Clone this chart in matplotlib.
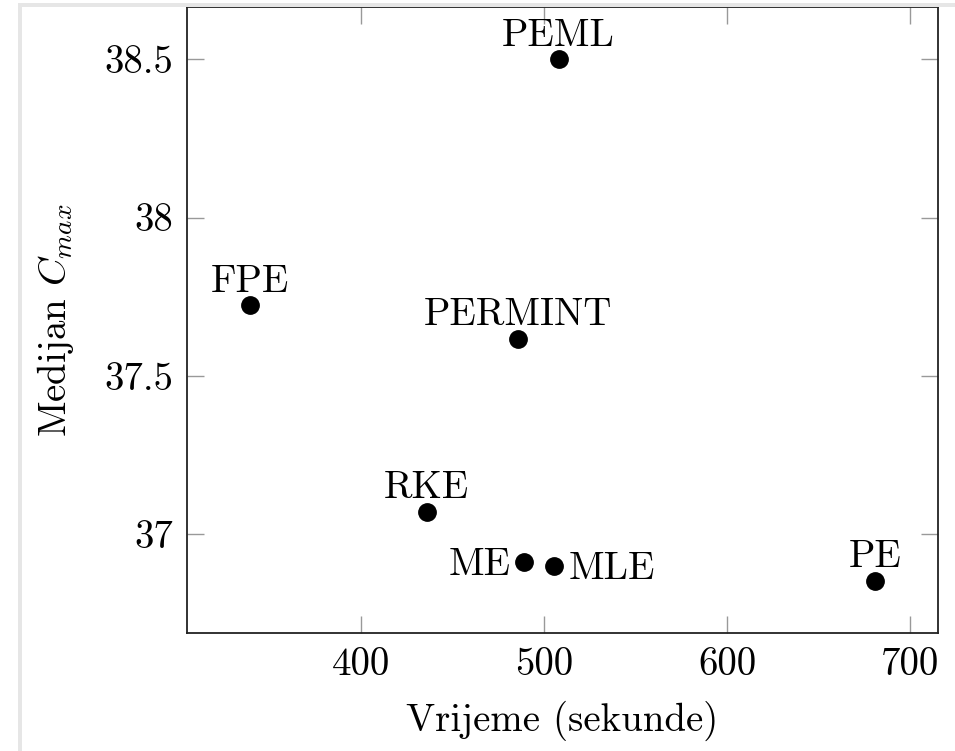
import matplotlib
matplotlib.use("Agg")
import matplotlib.pyplot as plt
from matplotlib.patches import Rectangle

plt.rcParams['font.family'] = ['cmr10', 'DejaVu Serif']
plt.rcParams['mathtext.fontset'] = 'cm'
plt.rcParams['axes.formatter.use_mathtext'] = True

methods = ["PEML", "PERMINT", "FPE", "RKE", "ME", "MLE", "PE"]
times = [507.8, 485.9, 339.0, 435.7, 488.7, 505.1, 680.8]
medians = [38.5, 37.617, 37.722, 37.068, 36.910, 36.897, 36.85]
label_pos = ["above", "above", "above", "above", "left", "right", "above"]

xticks = [400, 500, 600, 700]
xticklabels = ["400", "500", "600", "700"]
yticks = [37, 37.5, 38, 38.5]
yticklabels = ["37", "37.5", "38", "38.5"]

FS = 28

fig = plt.figure(figsize=(9.55, 7.51), dpi=100)
# light gray frame of the screenshot
fig.patches.append(Rectangle((18/955, 0), 4/955, 1 - 3/751, transform=fig.transFigure,
                             facecolor='#e6e6e6', edgecolor='none', zorder=0))
fig.patches.append(Rectangle((18/955, 1 - 7/751), 1 - 18/955, 4/751, transform=fig.transFigure,
                             facecolor='#e6e6e6', edgecolor='none', zorder=0))

ax = fig.add_axes([187/955, 1 - 633.3/751, (937.7 - 187)/955, (633.3 - 7.3)/751])
ax.plot(times, medians, linestyle='none', marker='o', markersize=12.5,
        color='black', zorder=3)
ax.margins(0.1)

for name, x, y, pos in zip(methods, times, medians, label_pos):
    if pos == "above":
        ax.annotate(name, (x, y), xytext=(0, 10), textcoords='offset points',
                    ha='center', va='baseline', fontsize=FS)
    elif pos == "left":
        ax.annotate(name, (x, y), xytext=(-9, -9.6), textcoords='offset points',
                    ha='right', va='baseline', fontsize=FS)
    else:
        ax.annotate(name, (x, y), xytext=(10.5, -9), textcoords='offset points',
                    ha='left', va='baseline', fontsize=FS)

ax.set_xticks(xticks)
ax.set_xticklabels(xticklabels)
ax.set_yticks(yticks)
ax.set_yticklabels(yticklabels)
ax.tick_params(direction='in', length=12, width=1.0, color='#999999',
               top=True, right=True, labelsize=FS, pad=10)
for s in ax.spines.values():
    s.set_linewidth(1.3)
    s.set_color('#222222')

ax.set_xlabel("Vrijeme (sekunde)", fontsize=FS, labelpad=13)
ax.set_ylabel("Medijan $C_{max}$", fontsize=FS, labelpad=20)

fig.savefig("out.png", dpi=100)
